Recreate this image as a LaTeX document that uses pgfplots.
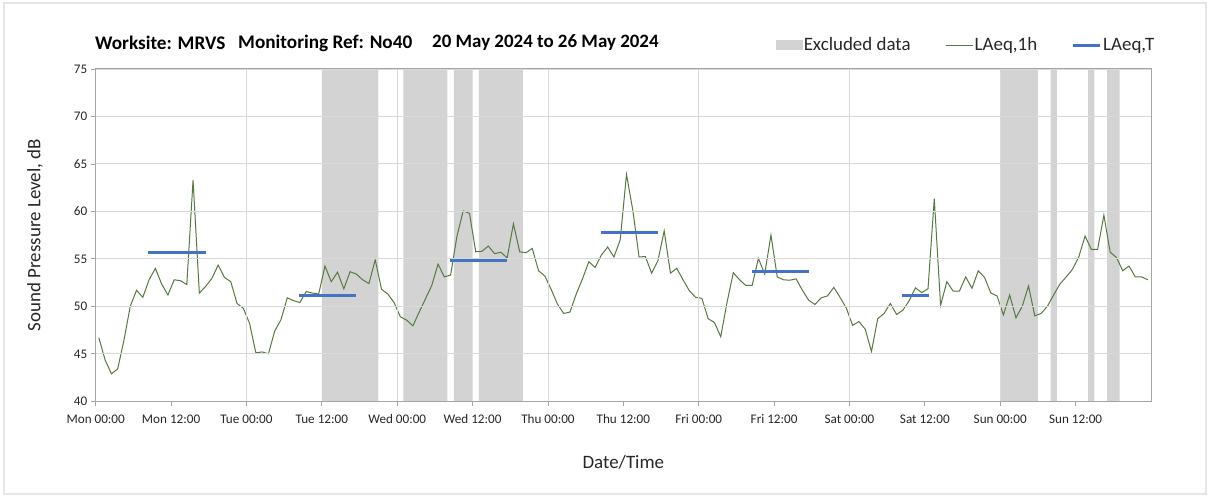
\documentclass[border=0pt]{standalone}
\usepackage{fontspec}
\setmainfont{Carlito}
\usepackage{pgfplots}
\pgfplotsset{compat=1.18}

\definecolor{bandgray}{HTML}{D3D3D3}
\definecolor{lgreen}{HTML}{55793F}
\definecolor{lblue}{HTML}{4472C4}
\definecolor{gridgray}{HTML}{D9D9D9}
\definecolor{axgray}{HTML}{A6A6A6}
\definecolor{txt}{HTML}{262626}

% hourly LAeq,1h, hour index from Mon 00:00
\pgfplotstableread{
h v
0.5 46.7
1.5 44.35
2.5 42.9
3.5 43.4
4.5 46.45
5.5 50.0
6.5 51.7
7.5 50.95
8.5 52.8
9.5 54.0
10.5 52.35
11.5 51.2
12.5 52.8
13.5 52.7
14.5 52.3
15.5 63.3
16.5 51.4
17.5 52.1
18.5 52.95
19.5 54.35
20.5 53.05
21.5 52.6
22.5 50.3
23.5 49.8
24.5 48.2
25.5 45.1
26.5 45.2
27.5 45.0
28.5 47.4
29.5 48.6
30.5 50.9
31.5 50.6
32.5 50.4
33.5 51.55
34.5 51.4
35.5 51.3
36.5 54.25
37.5 52.6
38.5 53.6
39.5 51.85
40.5 53.65
41.5 53.4
42.5 52.8
43.5 52.4
44.5 54.9
45.5 51.8
46.5 51.3
47.5 50.4
48.5 48.9
49.5 48.55
50.5 47.95
51.5 49.4
52.5 50.8
53.5 52.2
54.5 54.45
55.5 53.1
56.5 53.3
57.5 57.35
58.5 60.05
59.5 59.8
60.5 55.75
61.5 55.8
62.5 56.35
63.5 55.55
64.5 55.7
65.5 55.1
66.5 58.7
67.5 55.75
68.5 55.65
69.5 56.1
70.5 53.75
71.5 53.2
72.5 51.8
73.5 50.25
74.5 49.25
75.5 49.4
76.5 51.3
77.5 52.9
78.5 54.7
79.5 54.1
80.5 55.4
81.5 56.25
82.5 55.2
83.5 57.0
84.5 63.9
85.5 60.15
86.5 55.2
87.5 55.25
88.5 53.5
89.5 54.8
90.5 57.95
91.5 53.5
92.5 54.0
93.5 52.8
94.5 51.65
95.5 50.95
96.5 50.85
97.5 48.7
98.5 48.3
99.5 46.8
100.5 50.4
101.5 53.55
102.5 52.8
103.5 52.2
104.5 52.2
105.5 55.05
106.5 53.4
107.5 57.5
108.5 53.1
109.5 52.8
110.5 52.75
111.5 52.9
112.5 51.7
113.5 50.65
114.5 50.2
115.5 50.9
116.5 51.1
117.5 52.0
118.5 50.95
119.5 49.8
120.5 48.0
121.5 48.4
122.5 47.6
123.5 45.25
124.5 48.7
125.5 49.25
126.5 50.3
127.5 49.15
128.5 49.6
129.5 50.6
130.5 51.95
131.5 51.45
132.5 51.85
133.5 61.35
134.5 50.1
135.5 52.6
136.5 51.6
137.5 51.6
138.5 53.1
139.5 51.9
140.5 53.75
141.5 53.05
142.5 51.4
143.5 51.1
144.5 49.1
145.5 51.2
146.5 48.8
147.5 50.0
148.5 52.15
149.5 49.0
150.5 49.25
151.5 50.0
152.5 51.2
153.5 52.35
154.5 53.1
155.5 53.9
156.5 55.2
157.5 57.4
158.5 56.0
159.5 56.0
160.5 59.6
161.5 55.7
162.5 55.15
163.5 53.75
164.5 54.25
165.5 53.1
166.5 53.1
167.5 52.8
}\hourly

\begin{document}
\begin{tikzpicture}
\path[use as bounding box] (0,0) rectangle (1208bp,496bp);
\draw[black!10, line width=1.2bp] (4bp,2bp) rectangle (1206bp,493bp);

\begin{axis}[
  at={(95.7bp,94.7bp)}, anchor=south west,
  scale only axis, width=1055.3bp, height=332.3bp,
  xmin=0, xmax=168, ymin=40, ymax=75,
  xtick={0,12,...,156},
  xticklabels={Mon 00:00,Mon 12:00,Tue 00:00,Tue 12:00,Wed 00:00,Wed 12:00,Thu 00:00,Thu 12:00,Fri 00:00,Fri 12:00,Sat 00:00,Sat 12:00,Sun 00:00,Sun 12:00},
  minor xtick={24,48,...,168},
  ytick={40,45,...,75},
  xminorgrids, ymajorgrids,
  major grid style={gridgray, line width=0.9bp},
  minor grid style={gridgray, line width=0.9bp},
  minor tick length=0pt, major tick length=5bp,
  tick align=outside, tick pos=left,
  axis line style={axgray, line width=1bp},
  every tick/.style={axgray, line width=0.8bp},
  tick label style={font=\fontsize{13.2}{15}\selectfont, text=txt},
  xticklabel style={yshift=-5bp},
  /pgf/number format/assume math mode=true,
  xlabel={Date/Time}, ylabel={Sound Pressure Level, dB},
  label style={font=\fontsize{19}{22}\selectfont, text=txt},
  xlabel style={at={(axis description cs:0.5,-0.183)}, anchor=center},
  ylabel style={at={(axis description cs:-0.0575,0.5)}, anchor=center},
  axis on top,
  legend columns=3,
  legend style={draw=none, fill=none, at={(axis description cs:0.6415,1.072)}, anchor=west,
    font=\fontsize{19}{22}\selectfont, text=txt,
    /tikz/every even column/.append style={column sep=33bp},
    nodes={inner sep=1.5bp}},
]
% excluded periods
\addplot[fill=bandgray, draw=none, forget plot] coordinates {(36,40) (36,75) (45,75) (45,40)} \closedcycle;
\addplot[fill=bandgray, draw=none, forget plot] coordinates {(49,40) (49,75) (56,75) (56,40)} \closedcycle;
\addplot[fill=bandgray, draw=none, forget plot] coordinates {(57,40) (57,75) (60,75) (60,40)} \closedcycle;
\addplot[fill=bandgray, draw=none, forget plot] coordinates {(61,40) (61,75) (68,75) (68,40)} \closedcycle;
\addplot[fill=bandgray, draw=none, forget plot] coordinates {(144,40) (144,75) (150,75) (150,40)} \closedcycle;
\addplot[fill=bandgray, draw=none, forget plot] coordinates {(152,40) (152,75) (153,75) (153,40)} \closedcycle;
\addplot[fill=bandgray, draw=none, forget plot] coordinates {(158,40) (158,75) (159,75) (159,40)} \closedcycle;
\addplot[fill=bandgray, draw=none, forget plot] coordinates {(161,40) (161,75) (163,75) (163,40)} \closedcycle;

\addplot[lgreen, line width=1bp, forget plot] table[x=h, y=v] {\hourly};

% LAeq,T per day
\addplot[lblue, line width=3bp, forget plot] coordinates {(8.4,55.7) (17.5,55.7)};
\addplot[lblue, line width=3bp, forget plot] coordinates {(32.4,51.1) (41.5,51.1)};
\addplot[lblue, line width=3bp, forget plot] coordinates {(56.4,54.85) (65.5,54.85)};
\addplot[lblue, line width=3bp, forget plot] coordinates {(80.4,57.75) (89.5,57.75)};
\addplot[lblue, line width=3bp, forget plot] coordinates {(104.4,53.7) (113.5,53.7)};
\addplot[lblue, line width=3bp, forget plot] coordinates {(128.4,51.1) (132.6,51.1)};

\addlegendimage{legend image code/.code={\fill[bandgray] (0bp,-4.5bp) rectangle (26bp,4.5bp);}}
\addlegendentry{Excluded data}
\addlegendimage{lgreen, line width=1bp, legend image code/.code={\draw (0bp,0bp) -- (27bp,0bp);}}
\addlegendentry{LAeq,1h}
\addlegendimage{lblue, line width=3bp, legend image code/.code={\draw (0bp,0bp) -- (27bp,0bp);}}
\addlegendentry{LAeq,T}
\end{axis}

% chart title
\begin{scope}[every node/.style={anchor=west, inner sep=0pt, text=black, font=\bfseries\fontsize{19.3}{22}\selectfont}]
\node at (95bp,453bp) {Worksite: MRVS};
\node at (238bp,453bp) {Monitoring Ref: No40};
\node[font=\bfseries\fontsize{19}{22}\selectfont] at (432bp,453bp) {20 May 2024 to 26 May 2024};
\end{scope}
\end{tikzpicture}
\end{document}
